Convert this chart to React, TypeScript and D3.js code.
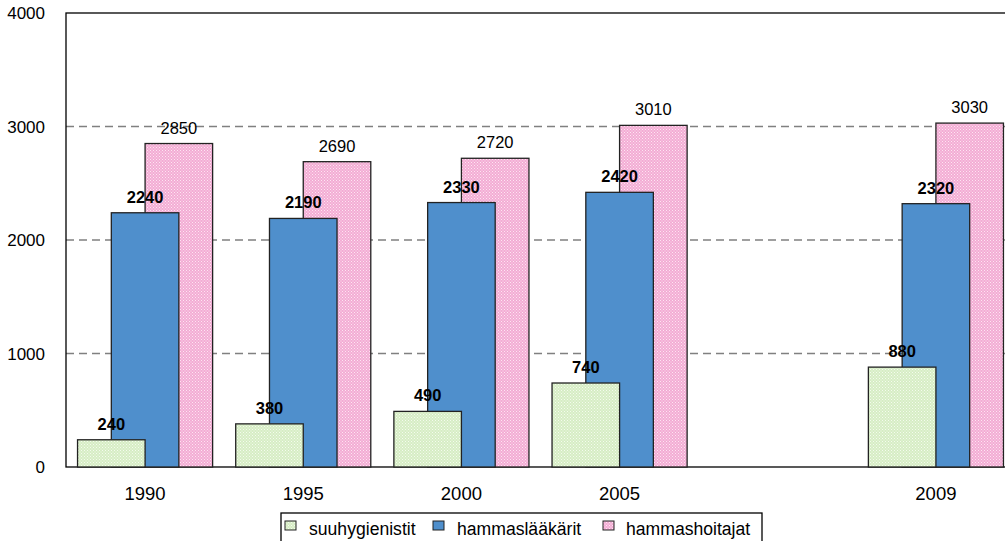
import React, { useRef, useEffect } from 'react';
import * as d3 from 'd3';

// slots on the x axis; the empty one keeps the gap before 2009
const slots = ['1990', '1995', '2000', '2005', 'gap', '2009'];
const years = ['1990', '1995', '2000', '2005', '2009'];
const suuhygienistit = [240, 380, 490, 740, 880];
const hammaslaakarit = [2240, 2190, 2330, 2420, 2320];
const hammashoitajat = [2850, 2690, 2720, 3010, 3030];
const yTicks = [0, 1000, 2000, 3000, 4000];
const seriesNames = ['suuhygienistit', 'hammaslääkärit', 'hammashoitajat'];

function App() {
  const ref = useRef<SVGSVGElement>(null);

  useEffect(() => {
    const svg = d3.select(ref.current);
    svg.selectAll('*').remove();

    const font = 'Liberation Sans, Arial, sans-serif';
    const left = 66, top = 13, right = 1015, bottom = 467;

    const defs = svg.append('defs');
    // fine dotted fill like the excel pattern
    const pat = (id: string, c1: string, c2: string) => {
      const p = defs.append('pattern').attr('id', id)
        .attr('width', 3).attr('height', 3).attr('patternUnits', 'userSpaceOnUse');
      p.append('rect').attr('width', 3).attr('height', 3).attr('fill', c1);
      p.append('rect').attr('width', 1).attr('height', 1).attr('fill', c2);
      p.append('rect').attr('x', 1.5).attr('y', 1.5).attr('width', 1).attr('height', 1).attr('fill', c2);
    };
    pat('pGreen', '#d6edc4', '#f4fbee');
    pat('pPink', '#f3acd4', '#fde6f2');

    const x = d3.scaleBand().domain(slots).range([left, right]);
    const y = d3.scaleLinear().domain([0, 4000]).range([bottom, top]);
    const bw = x.bandwidth() * 0.427;

    // gridlines
    svg.append('g').selectAll('line')
      .data(yTicks.filter(t => t > 0 && t < 4000))
      .enter().append('line')
      .attr('x1', left).attr('x2', right)
      .attr('y1', d => y(d)).attr('y2', d => y(d))
      .attr('stroke', '#808080').attr('stroke-width', 1.3)
      .attr('stroke-dasharray', '8,5');

    // plot border
    svg.append('rect')
      .attr('x', left).attr('y', top)
      .attr('width', right - left).attr('height', bottom - top)
      .attr('fill', 'none').attr('stroke', '#000').attr('stroke-width', 1.3);

    const series = [
      { values: hammashoitajat, fill: 'url(#pPink)', offset: 1, bold: false },
      { values: hammaslaakarit, fill: '#4f8fcc', offset: 0, bold: true },
      { values: suuhygienistit, fill: 'url(#pGreen)', offset: -1, bold: true },
    ];

    series.forEach(s => {
      const cx = (i: number) => (x(years[i]) as number) + x.bandwidth() / 2 + s.offset * bw / 2;
      svg.append('g').selectAll('rect')
        .data(s.values)
        .enter().append('rect')
        .attr('x', (d, i) => cx(i) - bw / 2)
        .attr('y', d => y(d))
        .attr('width', bw)
        .attr('height', d => bottom - y(d))
        .attr('fill', s.fill)
        .attr('stroke', '#222').attr('stroke-width', 1.3);
    });

    // value labels on top of everything
    series.forEach(s => {
      const cx = (i: number) => (x(years[i]) as number) + x.bandwidth() / 2 + s.offset * bw / 2;
      svg.append('g').selectAll('text')
        .data(s.values)
        .enter().append('text')
        .attr('x', (d, i) => cx(i))
        .attr('y', d => y(d) - 10)
        .attr('text-anchor', 'middle')
        .attr('font-family', font)
        .attr('font-size', 16.5)
        .attr('font-weight', s.bold ? 'bold' : 'normal')
        .text(d => d);
    });

    // y axis labels
    svg.append('g').selectAll('text')
      .data(yTicks)
      .enter().append('text')
      .attr('x', 45).attr('y', d => y(d) + 6)
      .attr('text-anchor', 'end')
      .attr('font-family', font).attr('font-size', 17)
      .text(d => d);

    // x axis labels
    svg.append('g').selectAll('text')
      .data(years)
      .enter().append('text')
      .attr('x', d => (x(d) as number) + x.bandwidth() / 2)
      .attr('y', 500)
      .attr('text-anchor', 'middle')
      .attr('font-family', font).attr('font-size', 18.5)
      .text(d => d);

    // legend
    const lg = svg.append('g');
    lg.append('rect').attr('x', 281).attr('y', 513).attr('width', 481).attr('height', 40)
      .attr('fill', '#fff').attr('stroke', '#000').attr('stroke-width', 1.3);
    const fills = ['url(#pGreen)', '#4f8fcc', 'url(#pPink)'];
    const swX = [285, 433, 603];
    const txX = [309, 457, 626];
    seriesNames.forEach((n, i) => {
      lg.append('rect').attr('x', swX[i]).attr('y', 521).attr('width', 11).attr('height', 9)
        .attr('fill', fills[i]).attr('stroke', '#222').attr('stroke-width', 1);
      lg.append('text').attr('x', txX[i]).attr('y', 535)
        .attr('font-family', font).attr('font-size', 17.6)
        .text(n);
    });
  }, []);

  return (
    <svg ref={ref} width={1005} height={541}
      style={{ position: 'absolute', left: 0, top: 0, background: '#fff' }} />
  );
}

export default App;
